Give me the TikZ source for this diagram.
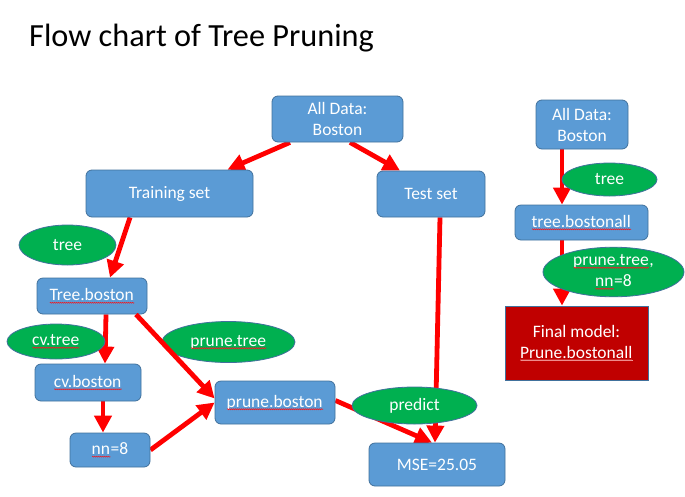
\documentclass[tikz,border=0pt]{standalone}
\usepackage{fontspec}
\setmainfont{Carlito}
\usetikzlibrary{arrows.meta,backgrounds,decorations.pathmorphing,shapes.geometric}

\definecolor{boxfill}{HTML}{5B9BD5}
\definecolor{boxline}{HTML}{41719C}
\definecolor{ovalfill}{HTML}{00B050}
\definecolor{finalfill}{HTML}{C00000}
\definecolor{flowred}{HTML}{FF0000}
\definecolor{wavered}{HTML}{E8202A}

% wavy underline under code names (optional colour of the wave)
\newsavebox\cnbox
\newcommand{\codename}[2][wavered]{\sbox\cnbox{#2}\leavevmode\rlap{\usebox\cnbox}%
  \tikz[baseline=0pt,x=1pt,y=1pt,sharp corners]\draw[#1,line width=0.6pt,decorate,
    decoration={snake,amplitude=0.5pt,segment length=2pt}]
    (0,-2.2) -- (\the\wd\cnbox,-2.2);}

\tikzset{
  stepbox/.style={draw=boxline, fill=boxfill, line width=0.8pt, rounded corners=6pt,
    text=white, font=\fontsize{17.5}{21}\selectfont, align=center, inner sep=0pt},
  oval/.style={ellipse, draw=boxline, fill=ovalfill, line width=0.8pt,
    text=white, font=\fontsize{17.5}{21}\selectfont, align=center, inner sep=0pt},
  finalbox/.style={draw=boxline, fill=finalfill, line width=0.8pt,
    text=white, font=\fontsize{17.5}{21}\selectfont, align=center, inner sep=0pt},
  flow/.style={draw=flowred, line width=4.8pt,
    -{Triangle[length=17pt,width=17pt]}},
}

\begin{document}
\begin{tikzpicture}[x=1pt,y=-1pt]
\useasboundingbox (0,0) rectangle (685,496);

% title
\node[anchor=base west, inner sep=0pt, font=\fontsize{32.3}{38}\selectfont] (title) at (29,46) {Flow chart of Tree Pruning};

% left flow: boxes
\node[stepbox, minimum width=131pt, minimum height=46pt] (top) at (337.5,119) {All Data:\\Boston};
\node[stepbox, minimum width=167pt, minimum height=47pt] (train) at (169.5,193.5) {Training set};
\node[stepbox, minimum width=108pt, minimum height=46pt] (test) at (431,194) {Test set};
\node[stepbox, minimum width=110pt, minimum height=36pt] (treeb) at (92,296) {\codename{Tree.boston}};
\node[stepbox, minimum width=106pt, minimum height=37pt] (cvb) at (88,382.5) {\codename{cv.boston}};
\node[stepbox, minimum width=80pt, minimum height=34pt] (nn) at (110,450) {\codename{nn}=8};
\node[stepbox, minimum width=120pt, minimum height=43pt] (pruneb) at (275,402.5) {\codename{prune.boston}};
\node[stepbox, minimum width=136pt, minimum height=43pt] (mse) at (437,464.5) {MSE=25.05};

% right flow: boxes
\node[stepbox, minimum width=92pt, minimum height=49pt] (ra) at (582,124.5) {All Data:\\Boston};
\node[stepbox, minimum width=133pt, minimum height=35pt] (rtb) at (581.5,222.5) {\codename{tree.bostonall}};
\node[finalbox, minimum width=143pt, minimum height=74pt] (final) at (576.5,343) {Final model:\\\codename[red!25]{Prune.bostonall}};

% arrows lying under the function ovals
\begin{scope}[on background layer]
\draw[flow] ([xshift=-47.5pt]top.south) -- ([xshift=58pt]train.north);
\draw[flow] ([xshift=12.5pt]top.south) -- ([xshift=-31pt]test.north);
\draw[flow] ([xshift=-39.5pt]train.south) -- ([xshift=18pt]treeb.north);
\draw[flow] ([xshift=9pt]test.south) -- ([xshift=-2pt]mse.north);
\draw[flow] ([xshift=14pt]treeb.south) -- ([xshift=17pt]cvb.north);
\draw[flow] ([xshift=15pt]cvb.south) -- ([xshift=-7pt]nn.north);
\draw[flow] (nn.east) -- (pruneb.west);
\draw[flow] ([yshift=2pt]pruneb.east) -- ([xshift=-5pt]mse.north);
\draw[flow] ([xshift=-20pt]ra.south) -- ([xshift=-19.5pt]rtb.north);
\draw[flow] ([xshift=-19.5pt]rtb.south) -- ([xshift=-14.5pt]final.north);
\end{scope}

% function ovals
\node[oval, minimum width=97pt, minimum height=40pt] (o1) at (67.5,245) {tree};
\node[oval, minimum width=98pt, minimum height=35pt] (o2) at (56,341.5) {\codename{cv.tree}};
\node[oval, minimum width=133pt, minimum height=41pt] (o3) at (228.5,342) {\codename{prune.tree}};
\node[oval, minimum width=125pt, minimum height=37pt] (o4) at (414.5,405.5) {predict};
\node[oval, minimum width=95pt, minimum height=33pt] (o5) at (609.5,179.5) {tree};
\node[oval, minimum width=141pt, minimum height=48pt] (o6) at (613.5,272) {\codename{prune.tree},\\\codename{nn}=8};

% this arrow crosses over the prune.tree oval
\draw[flow] ([xshift=44pt]treeb.south) -- ([yshift=4pt]pruneb.west);
\end{tikzpicture}
\end{document}
